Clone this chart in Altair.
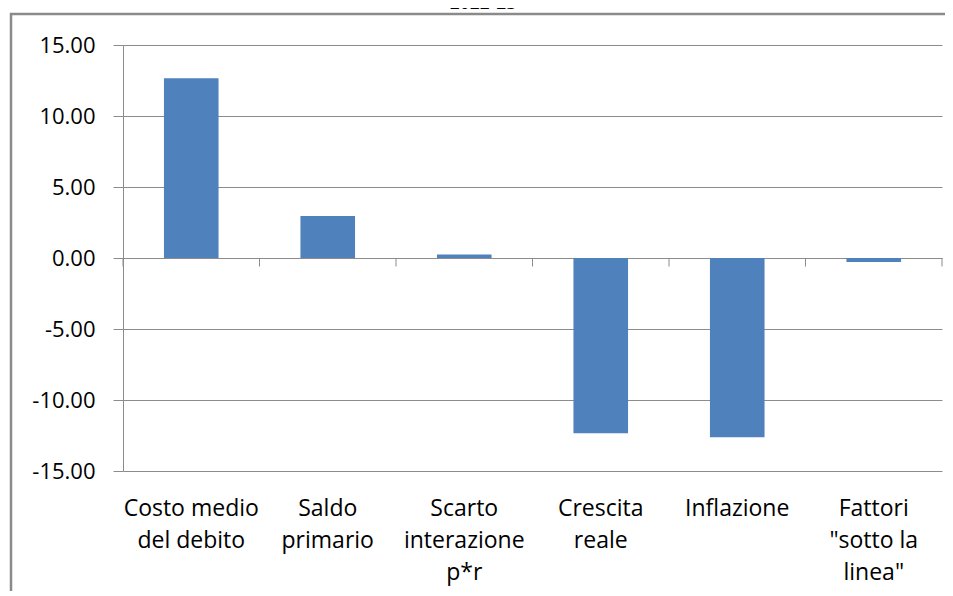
import altair as alt
import pandas as pd

# ---- data ----
categories = [
    "Costo medio\ndel debito",
    "Saldo\nprimario",
    "Scarto\ninterazione\np*r",
    "Crescita\nreale",
    "Inflazione",
    "Fattori\n\"sotto la\nlinea\"",
]
values = [12.66, 2.95, 0.24, -12.35, -12.63, -0.29]
y_ticks = [-15, -10, -5, 0, 5, 10, 15]
title_text = "2022-23"

df = pd.DataFrame({"cat": categories, "val": values})
cat_df = pd.DataFrame({"cat": categories})
last_df = pd.DataFrame({"cat": [categories[-1]]})
one = pd.DataFrame({"t": [title_text]})

W, H = 819, 426
GRID = "#8c8c8c"
BAR = "#4F81BD"
FONT = "Open Sans"

xscale = alt.Scale(domain=categories, paddingInner=0, paddingOuter=0)
yscale = alt.Scale(domain=[-15, 15], nice=False)

x_axis = alt.Axis(
    title=None,
    labelExpr="split(datum.label, '\\n')",
    domain=False,
    ticks=False,
    grid=False,
    labelAngle=0,
    labelFont=FONT,
    labelFontSize=23,
    labelColor="black",
    labelPadding=26,
    labelLineHeight=32,
    labelBaseline="top",
    labelOverlap=False,
    labelLimit=300,
)
y_axis = alt.Axis(
    title=None,
    values=y_ticks,
    labelExpr="(datum.value < 0 ? '-' : '') + format(abs(datum.value), '.2f')",
    grid=True,
    gridColor=GRID,
    gridWidth=1,
    domainColor=GRID,
    domainWidth=1,
    tickColor=GRID,
    tickSize=10,
    labelPadding=18,
    labelFont=FONT,
    labelFontSize=22,
    labelColor="black",
)

bars = alt.Chart(df).mark_bar(width=alt.RelativeBandSize(0.4), color=BAR).encode(
    x=alt.X("cat:N", scale=xscale, sort=categories, axis=x_axis),
    y=alt.Y("val:Q", scale=yscale, axis=y_axis),
)

ticks = alt.Chart(cat_df).mark_rule(color=GRID, strokeWidth=1).encode(
    x=alt.X("cat:N", scale=xscale, sort=categories, bandPosition=0, axis=x_axis),
    y=alt.Y(datum=0, scale=yscale, axis=y_axis),
    y2=alt.Y2(datum=-0.6),
)
last_tick = alt.Chart(last_df).mark_rule(color=GRID, strokeWidth=1).encode(
    x=alt.X("cat:N", scale=xscale, sort=categories, bandPosition=1, axis=x_axis),
    y=alt.Y(datum=0, scale=yscale, axis=y_axis),
    y2=alt.Y2(datum=-0.6),
)

frame = alt.Chart(one).mark_rect(fillOpacity=0, stroke="#8a8a8a", strokeWidth=2.5).encode(
    x=alt.value(-112), x2=alt.value(W + 60), y=alt.value(-31), y2=alt.value(H + 250)
)

title = alt.Chart(one).mark_text(
    font="Liberation Serif", fontWeight="bold", fontSize=20, align="center", baseline="alphabetic"
).encode(text="t:N", x=alt.value(360), y=alt.value(-36))

chart = alt.layer(bars, ticks, last_tick, frame, title).properties(
    width=W,
    height=H,
    padding={"left": 115, "top": 37, "right": 3, "bottom": 120},
    autosize=alt.AutoSizeParams(type="none"),
).configure_view(strokeWidth=0)

chart.save("out.html", embed_options={"renderer": "svg", "actions": False})
